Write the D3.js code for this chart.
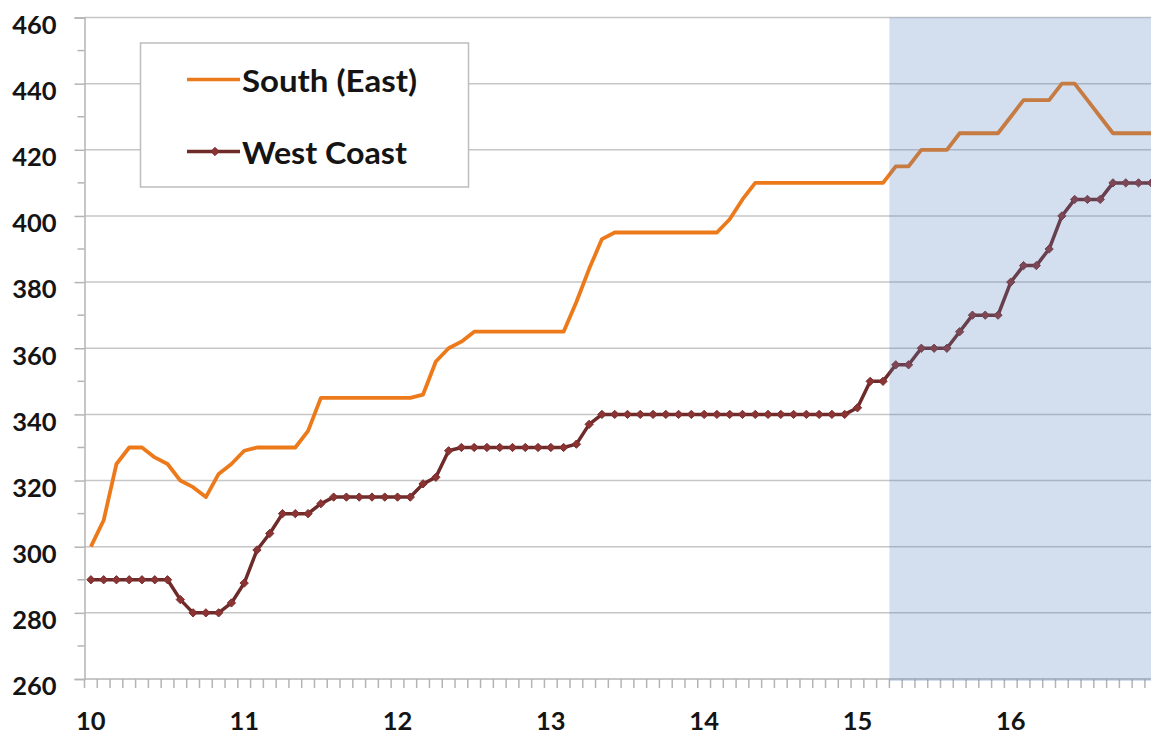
<!DOCTYPE html>
<html><head><meta charset="utf-8">
<script src="https://cdn.jsdelivr.net/npm/d3@7"></script>
<style>
body{margin:0;background:#fff;overflow:hidden}
text{font-family:Lato,"Open Sans",sans-serif;font-weight:700;fill:#141414}
</style>
</head><body>
<svg id="chart" width="1151" height="734"></svg>
<script>
// ---- data ----
const yearLabels = ["10","11","12","13","14","15","16"];
const monthsPerYear = 12;
const southEast = [
  300,308,325,330,330,327,325,320,318,315,322,325,
  329,330,330,330,330,335,345,345,345,345,345,345,
  345,345,346,356,360,362,365,365,365,365,365,365,
  365,365,374,384,393,395,395,395,395,395,395,395,
  395,395,399,405,410,410,410,410,410,410,410,410,
  410,410,410,415,415,420,420,420,425,425,425,425,
  430,435,435,435,440,440,435,430,425,425,425,425
];
const westCoast = [
  290,290,290,290,290,290,290,284,280,280,280,283,
  289,299,304,310,310,310,313,315,315,315,315,315,
  315,315,319,321,329,330,330,330,330,330,330,330,
  330,330,331,337,340,340,340,340,340,340,340,340,
  340,340,340,340,340,340,340,340,340,340,340,340,
  342,350,350,355,355,360,360,360,365,370,370,370,
  380,385,385,390,400,405,405,405,410,410,410,410
];
const seriesNames = ["South (East)","West Coast"];
const shadeStartMonth = 63;
const yTickValues = [260,280,300,320,340,360,380,400,420,440,460];
const yMinorValues = [270,290,310,330,350,370,390,410,430,450];

(function(){
// ---- layout ----
const svg = d3.select("#chart");
const pL = 84.5, pR = 1157.7, pT = 17.5, pB = 679;
const nMonths = yearLabels.length * monthsPerYear;
const months = d3.range(nMonths);

const x = d3.scaleBand().domain(months).range([pL, pR]);
const xc = i => x(i) + x.bandwidth()/2;
const y = d3.scaleLinear().domain([260,460]).range([pB, pT]);

const orange = "#EC7A1A", maroon = "#6F2A2A", markerFill = "#8C3434";

// gridlines
svg.append("g").selectAll("line").data(yTickValues.slice(1)).join("line")
  .attr("x1", pL).attr("x2", 1151)
  .attr("y1", d => y(d)).attr("y2", d => y(d))
  .attr("stroke", "#C6C6C6").attr("stroke-width", 1.5);

// y axis
const yAxis = svg.append("g").attr("transform", `translate(${pL},0)`)
  .call(d3.axisLeft(y).tickValues(yTickValues).tickSize(10).tickPadding(18).tickFormat(d3.format("d")));
yAxis.select(".domain").attr("stroke", "#B4B4B4").attr("stroke-width", 1.5);
yAxis.selectAll(".tick line").attr("stroke", "#B4B4B4").attr("stroke-width", 1.5);
yAxis.selectAll(".tick text").attr("font-size", 25.5).attr("dy", "0.62em")
  .style("font-family", "Lato,'Open Sans',sans-serif").style("font-weight", 700).attr("fill", "#141414");
svg.append("g").selectAll("line").data(yMinorValues).join("line")
  .attr("x1", pL-7).attr("x2", pL).attr("y1", d => y(d)).attr("y2", d => y(d))
  .attr("stroke", "#B4B4B4").attr("stroke-width", 1.5);

// x axis
svg.append("line").attr("x1", pL).attr("x2", 1151).attr("y1", pB).attr("y2", pB)
  .attr("stroke", "#B4B4B4").attr("stroke-width", 1.5);
svg.append("g").selectAll("line").data(d3.range(nMonths+1)).join("line")
  .attr("x1", d => d < nMonths ? x(d) : pR).attr("x2", d => d < nMonths ? x(d) : pR)
  .attr("y1", pB).attr("y2", pB+9)
  .attr("stroke", "#B4B4B4").attr("stroke-width", 1.5);
svg.append("g").selectAll("text").data(yearLabels).join("text")
  .attr("x", (d,i) => xc(i*monthsPerYear)).attr("y", 730)
  .attr("text-anchor", "middle").attr("font-size", 25.5).text(d => d);

// series
const line = d3.line().x((d,i) => xc(i)).y(d => y(d));
svg.append("path").datum(southEast).attr("d", line)
  .attr("fill", "none").attr("stroke", orange).attr("stroke-width", 3.8).attr("stroke-linejoin", "round");
svg.append("path").datum(westCoast).attr("d", line)
  .attr("fill", "none").attr("stroke", maroon).attr("stroke-width", 3.5).attr("stroke-linejoin", "round");
const diamond = d3.symbol().type(d3.symbolDiamond2).size(44);
svg.append("g").selectAll("path").data(westCoast).join("path")
  .attr("d", diamond).attr("transform", (d,i) => `translate(${xc(i)},${y(d)})`)
  .attr("fill", markerFill).attr("stroke", "#7A2E2E").attr("stroke-width", 1);

// forecast shading (semi-transparent, on top)
svg.append("rect").attr("x", x(shadeStartMonth)).attr("y", pT)
  .attr("width", pR - x(shadeStartMonth)).attr("height", pB - pT + 2)
  .attr("fill", "rgba(79,129,189,0.25)");

// legend
const lg = svg.append("g");
lg.append("rect").attr("x", 140.5).attr("y", 43).attr("width", 328).attr("height", 144)
  .attr("fill", "#fff").attr("stroke", "#BDBDBD").attr("stroke-width", 1.5);
const legendRows = [
  {name: seriesNames[0], color: orange, ly: 79.5, marker: false, w: 175},
  {name: seriesNames[1], color: maroon, ly: 151.5, marker: true, w: 165}
];
legendRows.forEach(r => {
  lg.append("line").attr("x1", 187).attr("x2", 240).attr("y1", r.ly).attr("y2", r.ly)
    .attr("stroke", r.color).attr("stroke-width", 3.5);
  if (r.marker) lg.append("path").attr("d", diamond).attr("transform", `translate(215,${r.ly})`)
    .attr("fill", markerFill).attr("stroke", "#7A2E2E");
  lg.append("text").attr("x", 242).attr("y", r.ly + 12).attr("font-size", 31)
    .attr("textLength", r.w).attr("lengthAdjust", "spacingAndGlyphs").text(r.name);
});
})();
</script>
</body></html>
